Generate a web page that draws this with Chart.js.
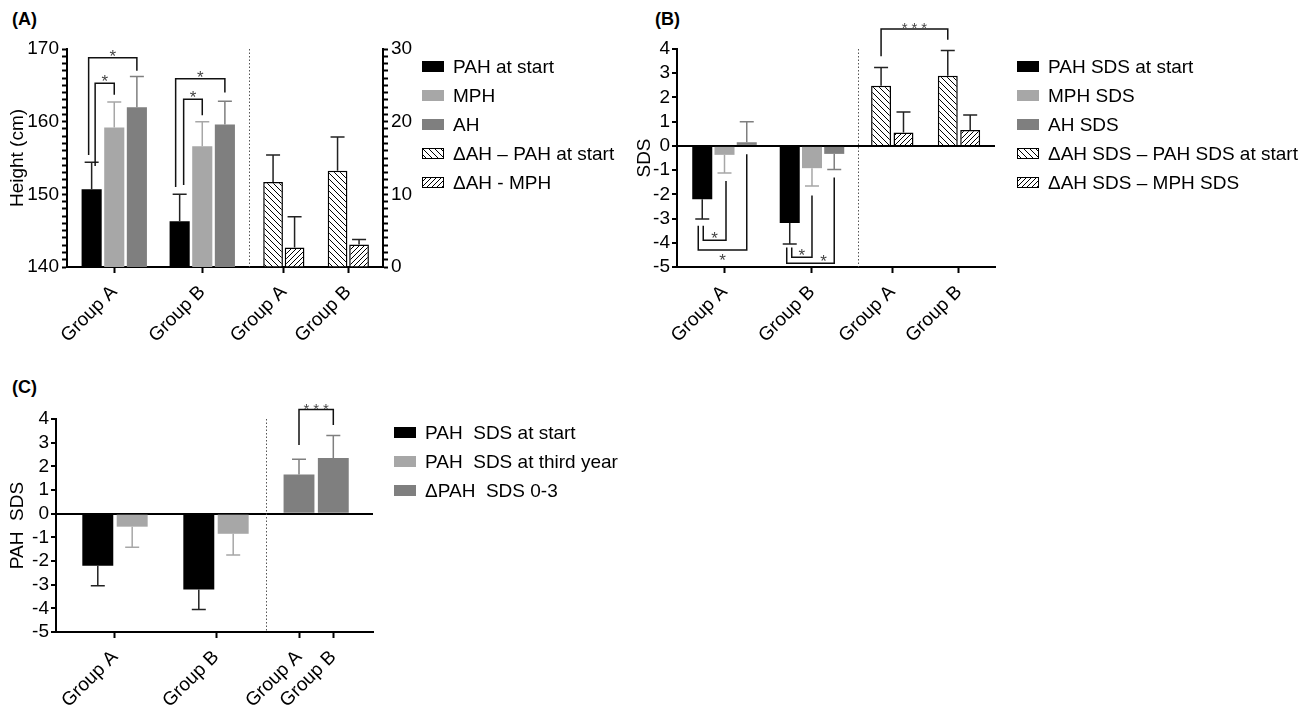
<!DOCTYPE html>
<html>
<head>
<meta charset="utf-8">
<title>PAH, MPH and AH by group</title>
<script src="https://cdn.jsdelivr.net/npm/chart.js@4.4.1/dist/chart.umd.min.js"></script>
<style>
  body { margin: 0; background: #fff; font-family: 'Liberation Sans', Arial, sans-serif; }
  #page { position: relative; width: 1302px; height: 715px; overflow: hidden; }
  .panel, .legend, .tag { position: absolute; }
  .panel canvas { position: absolute; left: 0; top: 0; }
  .tag { font-size: 18px; font-weight: bold; line-height: 20px; }
  .legend { font-size: 19px; color: #000; }
  .legend .row { height: 29px; display: flex; align-items: center; white-space: pre; }
  .legend canvas { margin-right: 9px; }
</style>
</head>
<body>
<div id="page">
  <div class="tag" style="left:12px;top:9px">(A)</div>
  <div class="tag" style="left:655px;top:9px">(B)</div>
  <div class="tag" style="left:12px;top:377px">(C)</div>

  <div class="panel" style="left:0;top:0;width:420px;height:350px">
    <canvas id="aL" width="420" height="350"></canvas>
    <canvas id="aR" width="420" height="350"></canvas>
  </div>
  <div class="panel" style="left:630px;top:0;width:380px;height:350px">
    <canvas id="bL" width="380" height="350"></canvas>
    <canvas id="bR" width="380" height="350"></canvas>
  </div>
  <div class="panel" style="left:0;top:360px;width:390px;height:355px">
    <canvas id="cL" width="390" height="355"></canvas>
    <canvas id="cR" width="390" height="355"></canvas>
  </div>

  <div class="legend" id="legA" style="left:422px;top:52px"></div>
  <div class="legend" id="legB" style="left:1017px;top:52px"></div>
  <div class="legend" id="legC" style="left:394px;top:418px"></div>
</div>

<script>
const groups = ['Group A', 'Group B'];

// (A) height in cm, mean and SD
const pahStart = [150.7, 146.3];
const pahStartSd = [3.7, 3.7];
const mph = [159.2, 156.6];
const mphSd = [3.5, 3.4];
const ah = [162.0, 159.6];
const ahSd = [4.2, 3.2];
// right axis (cm difference)
const dAhPah = [11.7, 13.25];
const dAhPahSd = [3.7, 4.65];
const dAhMph = [2.7, 3.1];
const dAhMphSd = [4.2, 0.7];

// (B) SDS
const pahSdsStart = [-2.2, -3.18];
const pahSdsStartSd = [0.82, 0.87];
const mphSds = [-0.37, -0.92];
const mphSdsSd = [0.75, 0.74];
const ahSds = [0.15, -0.33];
const ahSdsSd = [0.85, 0.64];
const dAhSdsPah = [2.48, 2.9];
const dAhSdsPahSd = [0.76, 1.04];
const dAhSdsMph = [0.55, 0.66];
const dAhSdsMphSd = [0.85, 0.62];

// (C) PAH SDS
const cStart = [-2.2, -3.2];
const cStartSd = [0.85, 0.85];
const cThird = [-0.55, -0.85];
const cThirdSd = [0.87, 0.9];
const cDelta = [1.65, 2.35];
const cDeltaSd = [0.65, 0.95];

// tick labels
const heightTicks = [140, 150, 160, 170];
const diffTicks = [0, 10, 20, 30];
const sdsTicks = [-5, -4, -3, -2, -1, 0, 1, 2, 3, 4];

// significance brackets: [dataset, group, dx], y = [start, top, end]
const bracketsA = [
  { from: [0, 0, -3], to: [2, 0, 0], y: [155.4, 168.8, 167.0], text: '*', side: 'above' },
  { from: [0, 0, 3.5], to: [1, 0, 0], y: [153.9, 165.3, 163.7], text: '*', side: 'above' },
  { from: [0, 1, -4], to: [2, 1, 0], y: [151.0, 165.9, 164.0], text: '*', side: 'above' },
  { from: [0, 1, 4], to: [1, 1, 0], y: [151.3, 163.1, 160.9], text: '*', side: 'above' }
];
const bracketsB = [
  { from: [0, 0, -4], to: [2, 0, 0], y: [-3.3, -4.3, -0.35], text: '*', side: 'below' },
  { from: [0, 0, 1], to: [1, 0, 1.5], y: [-3.3, -3.9, -1.45], text: '*', side: 'above' },
  { from: [0, 1, -3], to: [2, 1, 0], y: [-4.2, -4.85, -1.3], text: '*', side: 'above', dx: 13 },
  { from: [0, 1, 2], to: [1, 1, 0], y: [-4.2, -4.6, -2.05], text: '*', side: 'above' }
];
const bracketsBR = [
  { from: [0, 0, 0], to: [0, 1, 0], y: [3.7, 4.83, 4.38], text: '***', side: 'above' }
];
const bracketsCR = [
  { from: [0, 0, 0], to: [0, 1, 0], y: [2.9, 4.4, 3.75], text: '***', side: 'above' }
];

const BLACK = '#000000';
const LIGHT = '#a7a7a7';
const DARK = '#7f7f7f';
const X_AXIS_H = 83;

Chart.defaults.font.family = "'Liberation Sans', Arial, sans-serif";
Chart.defaults.font.size = 19;
Chart.defaults.color = '#000';
Chart.defaults.animation = false;
Chart.defaults.responsive = false;

function hatchTile(dir, size) {
  const c = document.createElement('canvas');
  c.width = c.height = size;
  const g = c.getContext('2d');
  g.fillStyle = '#fff';
  g.fillRect(0, 0, size, size);
  g.strokeStyle = '#000';
  g.lineWidth = 1;
  g.beginPath();
  for (const o of [-size, 0, size]) {
    if (dir === '\\') { g.moveTo(o, 0); g.lineTo(o + size, size); }
    else { g.moveTo(o, size); g.lineTo(o + size, 0); }
  }
  g.stroke();
  return c;
}
const backHatch = hatchTile('\\', 6);
const fwdHatch = hatchTile('/', 5);

function bars(label, values, sd, fill, errColor, tile) {
  return {
    label,
    data: values.map((v, i) => ({ x: i, y: v })),
    sd, errColor, fill, tile: tile || null,
    backgroundColor: tile ? (c) => c.chart.ctx.createPattern(tile, 'repeat') : fill,
    borderColor: '#000',
    borderWidth: tile ? 1.5 : 0
  };
}

const errorBars = {
  id: 'errorBars',
  afterDatasetsDraw(chart) {
    const ctx = chart.ctx;
    chart.data.datasets.forEach((ds, di) => {
      if (!ds.sd) return;
      const meta = chart.getDatasetMeta(di);
      const ys = meta.vScale;
      meta.data.forEach((bar, i) => {
        const v = ds.data[i].y, s = ds.sd[i];
        const end = v >= 0 ? v + s : v - s;
        const y0 = ys.getPixelForValue(v), y1 = ys.getPixelForValue(end);
        ctx.save();
        ctx.strokeStyle = ds.errColor;
        ctx.lineWidth = 1.5;
        ctx.beginPath();
        ctx.moveTo(bar.x, y0); ctx.lineTo(bar.x, y1);
        ctx.moveTo(bar.x - 7, y1); ctx.lineTo(bar.x + 7, y1);
        ctx.stroke();
        ctx.restore();
      });
    });
  }
};

function bracketsFor(list) {
  return {
    id: 'brackets',
    afterDatasetsDraw(chart) {
      const ctx = chart.ctx;
      const ys = chart.scales.y;
      list.forEach(b => {
        const x1 = chart.getDatasetMeta(b.from[0]).data[b.from[1]].x + b.from[2];
        const x2 = chart.getDatasetMeta(b.to[0]).data[b.to[1]].x + b.to[2];
        const ya = ys.getPixelForValue(b.y[0]);
        const yb = ys.getPixelForValue(b.y[1]);
        const yc = ys.getPixelForValue(b.y[2]);
        ctx.save();
        ctx.strokeStyle = '#111';
        ctx.lineWidth = 1.5;
        ctx.beginPath();
        ctx.moveTo(x1, ya); ctx.lineTo(x1, yb); ctx.lineTo(x2, yb); ctx.lineTo(x2, yc);
        ctx.stroke();
        const triple = b.text.length > 1;
        ctx.fillStyle = '#444';
        ctx.font = (triple ? 15 : 17) + "px 'Liberation Sans', Arial, sans-serif";
        if (triple) ctx.letterSpacing = '4px';
        ctx.textAlign = 'center';
        ctx.textBaseline = 'alphabetic';
        const lx = (x1 + x2) / 2 + (b.dx || 0) + (triple ? 2 : 0);
        ctx.fillText(b.text, lx, b.side === 'below' ? yb + 16 : yb + 4);
        ctx.restore();
      });
    }
  };
}

const separator = {
  id: 'separator',
  afterDraw(chart) {
    const { ctx, chartArea } = chart;
    ctx.save();
    ctx.strokeStyle = '#555';
    ctx.lineWidth = 1;
    ctx.setLineDash([1.5, 2]);
    ctx.beginPath();
    ctx.moveTo(chartArea.left + 0.5, chartArea.top);
    ctx.lineTo(chartArea.left + 0.5, chartArea.bottom);
    ctx.stroke();
    ctx.restore();
  }
};

function unitTicks(min, max) {
  return s => {
    const t = [];
    for (let v = min; v <= max; v++) t.push({ value: v });
    s.ticks = t;
  };
}

function xAxis(range) {
  return {
    type: 'linear', min: range[0], max: range[1], offset: false,
    afterBuildTicks: s => { s.ticks = groups.map((g, i) => ({ value: i })); },
    afterFit: s => { s.height = X_AXIS_H; },
    ticks: { callback: v => groups[v], minRotation: 45, maxRotation: 45, autoSkip: false, padding: 8 },
    grid: { drawOnChartArea: false, offset: false, tickLength: 6, tickWidth: 2, tickColor: '#000' },
    border: { color: '#000', width: 2 }
  };
}

function sdsAxis(title, width, pad) {
  return {
    min: -5, max: 4,
    afterBuildTicks: s => { s.ticks = sdsTicks.map(v => ({ value: v })); },
    ticks: { autoSkip: false, padding: 2 },
    grid: {
      color: c => (c.tick && c.tick.value === 0 ? '#000' : 'rgba(0,0,0,0)'),
      lineWidth: 2, tickLength: 5, tickWidth: 2, tickColor: '#000'
    },
    border: { color: '#000', width: 2 },
    title: { display: true, text: title, padding: { top: pad, bottom: 0 } },
    afterFit: s => { s.width = width; }
  };
}

function hiddenSdsAxis() {
  return {
    min: -5, max: 4,
    afterBuildTicks: s => { s.ticks = sdsTicks.map(v => ({ value: v })); },
    ticks: { display: false },
    grid: {
      drawTicks: false,
      color: c => (c.tick && c.tick.value === 0 ? '#000' : 'rgba(0,0,0,0)'),
      lineWidth: 2
    },
    border: { display: false },
    afterFit: s => { s.width = 0; }
  };
}

function makeChart(id, datasets, opt) {
  datasets.forEach(d => { d.categoryPercentage = opt.cp; d.barPercentage = opt.bp; });
  return new Chart(document.getElementById(id), {
    type: 'bar',
    data: { datasets },
    options: {
      events: [],
      layout: { padding: opt.padding },
      plugins: { legend: { display: false }, tooltip: { enabled: false } },
      scales: { x: opt.x, y: opt.y }
    },
    plugins: opt.plugins
  });
}

// (A)
const aL = makeChart('aL', [
  bars('PAH at start', pahStart, pahStartSd, BLACK, '#222'),
  bars('MPH', mph, mphSd, LIGHT, LIGHT),
  bars('AH', ah, ahSd, DARK, DARK)
], {
  padding: { left: 0, right: 171, top: 49, bottom: 0 },
  cp: 0.771, bp: 0.889,
  x: xAxis([-0.537, 1.531]),
  y: {
    min: 140, max: 170,
    afterBuildTicks: unitTicks(140, 170),
    ticks: { autoSkip: false, padding: 3, callback: v => (heightTicks.includes(v) ? v : '') },
    grid: { drawOnChartArea: false, tickLength: 5, tickColor: '#000', tickWidth: 2 },
    border: { color: '#000', width: 2 },
    title: { display: true, text: 'Height (cm)', padding: { top: 6, bottom: 0 } },
    afterFit: s => { s.width = 67; }
  },
  plugins: [errorBars, bracketsFor(bracketsA)]
});

const aR = makeChart('aR', [
  bars('\u0394AH \u2013 PAH at start', dAhPah, dAhPahSd, '#fff', '#222', backHatch),
  bars('\u0394AH - MPH', dAhMph, dAhMphSd, '#fff', '#222', fwdHatch)
], {
  padding: { left: 249, right: 0, top: 49, bottom: 0 },
  cp: 0.667, bp: 0.916,
  x: xAxis([-0.54, 1.538]),
  y: {
    position: 'right',
    min: 0, max: 30,
    afterBuildTicks: unitTicks(0, 30),
    ticks: { autoSkip: false, padding: 3, callback: v => (diffTicks.includes(v) ? v : '') },
    grid: { drawOnChartArea: false, tickLength: 5, tickColor: '#000', tickWidth: 2 },
    border: { color: '#000', width: 2 },
    afterFit: s => { s.width = 37; }
  },
  plugins: [errorBars, separator]
});

// (B)
const bL = makeChart('bL', [
  bars('PAH SDS at start', pahSdsStart, pahSdsStartSd, BLACK, '#222'),
  bars('MPH SDS', mphSds, mphSdsSd, LIGHT, LIGHT),
  bars('AH SDS', ahSds, ahSdsSd, DARK, DARK)
], {
  padding: { left: 0, right: 152, top: 49, bottom: 0 },
  cp: 0.763, bp: 0.9,
  x: xAxis([-0.543, 1.526]),
  y: sdsAxis('SDS', 47, 3),
  plugins: [errorBars, bracketsFor(bracketsB)]
});

const bR = makeChart('bR', [
  bars('\u0394AH SDS \u2013 PAH SDS at start', dAhSdsPah, dAhSdsPahSd, '#fff', '#222', backHatch),
  bars('\u0394AH SDS \u2013 MPH SDS', dAhSdsMph, dAhSdsMphSd, '#fff', '#222', fwdHatch)
], {
  padding: { left: 228, right: 15, top: 49, bottom: 0 },
  cp: 0.672, bp: 0.89,
  x: xAxis([-0.514, 1.54]),
  y: hiddenSdsAxis(),
  plugins: [errorBars, separator, bracketsFor(bracketsBR)]
});

// (C)
const cL = makeChart('cL', [
  bars('PAH  SDS at start', cStart, cStartSd, BLACK, '#222'),
  bars('PAH  SDS at third year', cThird, cThirdSd, LIGHT, LIGHT)
], {
  padding: { left: 0, right: 124, top: 59, bottom: 0 },
  cp: 0.681, bp: 0.9,
  x: xAxis([-0.584, 1.495]),
  y: sdsAxis('PAH  SDS', 56, 6),
  plugins: [errorBars]
});

const cR = makeChart('cR', [
  bars('\u0394PAH  SDS 0-3', cDelta, cDeltaSd, DARK, DARK)
], {
  padding: { left: 266, right: 17, top: 59, bottom: 0 },
  cp: 1, bp: 0.9,
  x: xAxis([-0.962, 2.157]),
  y: hiddenSdsAxis(),
  plugins: [errorBars, separator, bracketsFor(bracketsCR)]
});

// HTML legends built from the charts' datasets
function buildLegend(id, charts) {
  const el = document.getElementById(id);
  charts.forEach(ch => ch.data.datasets.forEach(ds => {
    const row = document.createElement('div');
    row.className = 'row';
    const sw = document.createElement('canvas');
    sw.width = 22; sw.height = 11;
    const g = sw.getContext('2d');
    g.fillStyle = ds.tile ? g.createPattern(ds.tile, 'repeat') : ds.fill;
    g.fillRect(0, 0, 22, 11);
    if (ds.tile) { g.strokeStyle = '#000'; g.lineWidth = 1; g.strokeRect(0.5, 0.5, 21, 10); }
    const txt = document.createElement('span');
    txt.textContent = ds.label;
    row.appendChild(sw);
    row.appendChild(txt);
    el.appendChild(row);
  }));
}
buildLegend('legA', [aL, aR]);
buildLegend('legB', [bL, bR]);
buildLegend('legC', [cL, cR]);
</script>
</body>
</html>
